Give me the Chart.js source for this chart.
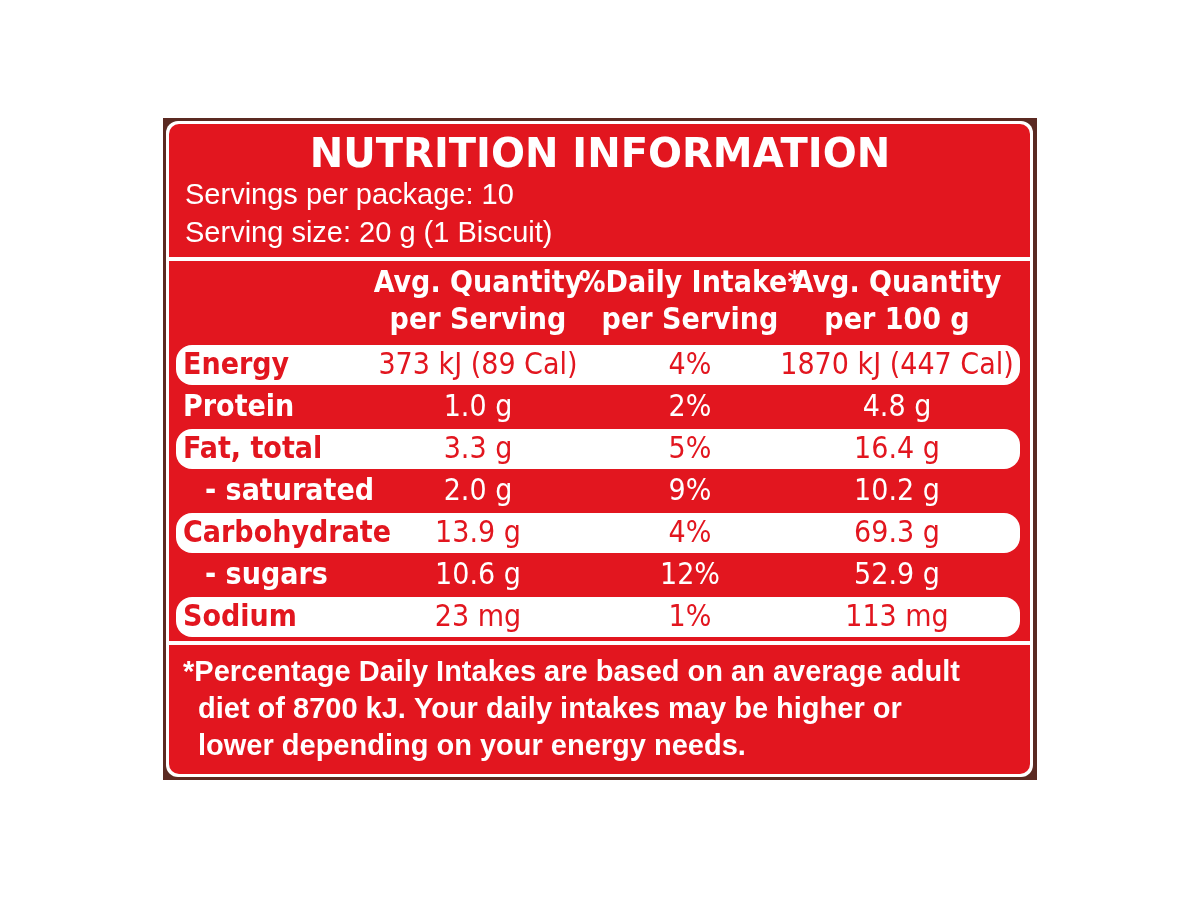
<!DOCTYPE html>
<html><head><meta charset="utf-8">
<script src="https://cdn.jsdelivr.net/npm/chart.js@4/dist/chart.umd.min.js"></script>
<style>html,body{margin:0;background:#fff}#c{display:block}</style></head>
<body><canvas id="c" width="1200" height="900"></canvas>
<script>
const title = "NUTRITION INFORMATION";
const servingLines = ["Servings per package: 10", "Serving size: 20 g (1 Biscuit)"];
const headers = [["Avg. Quantity","per Serving"],["%Daily Intake*","per Serving"],["Avg. Quantity","per 100 g"]];
const nutrients = ["Energy","Protein","Fat, total","- saturated","Carbohydrate","- sugars","Sodium"];
const perServing = ["373 kJ (89 Cal)","1.0 g","3.3 g","2.0 g","13.9 g","10.6 g","23 mg"];
const dailyIntake = ["4%","2%","5%","9%","4%","12%","1%"];
const per100g = ["1870 kJ (447 Cal)","4.8 g","16.4 g","10.2 g","69.3 g","52.9 g","113 mg"];
const footnote = ["*Percentage Daily Intakes are based on an average adult","diet of 8700 kJ. Your daily intakes may be higher or","lower depending on your energy needs."];

const RED = "#e2161f", BROWN = "#5b2a22";
const NARROW = "'Liberation Sans Narrow', 'DejaVu Sans Condensed', sans-serif";
function rr(ctx,x,y,w,h,r){ctx.beginPath();ctx.moveTo(x+r,y);ctx.arcTo(x+w,y,x+w,y+h,r);ctx.arcTo(x+w,y+h,x,y+h,r);ctx.arcTo(x,y+h,x,y,r);ctx.arcTo(x,y,x+w,y,r);ctx.closePath();}

const labelPlugin = {
  id: 'label',
  beforeDraw(chart){
    const ctx = chart.ctx, X = chart.scales.x, Y = chart.scales.y;
    const px = v => X.getPixelForValue(v);
    ctx.save();
    ctx.fillStyle = "#fff"; ctx.fillRect(0,0,1200,900);
    ctx.fillStyle = BROWN; ctx.fillRect(px(163),118,px(1037)-px(163),662);
    rr(ctx,px(166),121,px(1033)-px(166),656,12); ctx.fillStyle="#fff"; ctx.fill();
    rr(ctx,px(169),124,px(1030)-px(169),650,10); ctx.fillStyle=RED; ctx.fill();
    // dividers
    ctx.fillStyle="#fff"; ctx.fillRect(px(169),257,px(1030)-px(169),4);
    ctx.fillRect(px(169),641,px(1030)-px(169),4);
    ctx.textBaseline="middle";
    ctx.fillStyle="#fff";
    ctx.font="bold 40px 'DejaVu Sans', sans-serif"; ctx.textAlign="center";
    ctx.fillText(title,px(600),157);
    ctx.font="29px 'Liberation Sans', Arial, sans-serif"; ctx.textAlign="left";
    servingLines.forEach((s,i)=>ctx.fillText(s,px(185),196+i*38));
    const cols=[478,690,897];
    ctx.font="bold 30px "+NARROW; ctx.textAlign="center";
    headers.forEach((h,i)=>{ctx.fillText(h[0],px(cols[i]),284);ctx.fillText(h[1],px(cols[i]),321);});
    nutrients.forEach((n,i)=>{
      const y = Y.getPixelForValue(i);
      const pill = i%2===0;
      if(pill){rr(ctx,px(176),y-20,px(1020)-px(176),40,16);ctx.fillStyle="#fff";ctx.fill();}
      ctx.fillStyle = pill?RED:"#fff";
      ctx.font="bold 30px "+NARROW; ctx.textAlign="left";
      ctx.fillText(n,px(n.startsWith("-")?205:183),y+1);
      ctx.font="30px "+NARROW; ctx.textAlign="center";
      ctx.fillText(perServing[i],px(cols[0]),y+1);
      ctx.fillText(dailyIntake[i],px(cols[1]),y+1);
      ctx.fillText(per100g[i],px(cols[2]),y+1);
    });
    ctx.fillStyle="#fff"; ctx.font="bold 29px 'Liberation Sans', Arial, sans-serif"; ctx.textAlign="left";
    footnote.forEach((s,i)=>ctx.fillText(s,px(i===0?183:198),673+i*37));
    ctx.restore();
  }
};

new Chart(document.getElementById('c'),{
  type:'scatter',
  data:{labels:nutrients,datasets:[{data:[],pointRadius:0}]},
  options:{
    responsive:false,animation:false,
    layout:{padding:{top:365,bottom:283,left:0,right:0}},
    plugins:{legend:{display:false},tooltip:{enabled:false}},
    scales:{
      x:{type:'linear',min:0,max:1200,display:false},
      y:{type:'category',labels:nutrients,offset:false,display:false}
    }
  },
  plugins:[labelPlugin]
});
</script></body></html>
